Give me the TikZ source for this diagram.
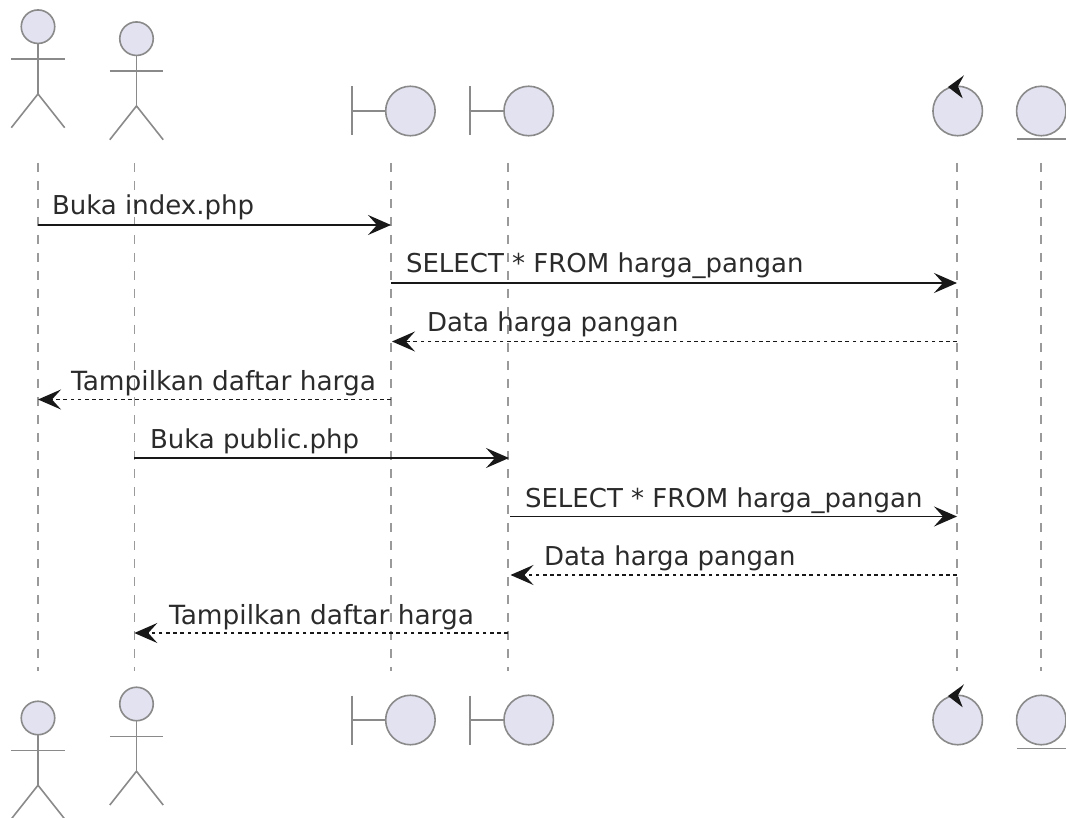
\documentclass[tikz,border=0pt]{standalone}
\usepackage{fontspec}
\setmainfont{DejaVu Sans}
\usetikzlibrary{arrows.meta}
\definecolor{partfill}{HTML}{E2E2F0}
\definecolor{partline}{HTML}{8A8A8A}
\definecolor{lifegray}{HTML}{9A9A9A}
\definecolor{msgline}{HTML}{181818}
\tikzset{
  x=1pt,y=-1pt,
  figure/.style={draw=partline,line width=1.6pt},
  headcirc/.style={figure,fill=partfill,circle,inner sep=0pt,outer sep=0pt,minimum size=33.5pt},
  bigcirc/.style={figure,fill=partfill,circle,inner sep=0pt,outer sep=0pt,minimum size=49.5pt},
  lifeline/.style={draw=lifegray,line width=1.6pt,dash pattern=on 9pt off 9pt},
  msg/.style={draw=msgline,line width=1.7pt,-{Stealth[length=23pt,width=20pt,inset=9pt,fill=msgline]}},
  reply/.style={msg,dash pattern=on 3.6pt off 3.6pt},
  msglabel/.style={anchor=base west,inner sep=0pt,outer sep=0pt,text=msgline!92!white,font=\fontsize{26}{30}\selectfont},
  widelabel/.style={msglabel,font=\fontsize{26.4}{30}\selectfont},
}
\newcommand{\stick}[3]{% name, x, top y (head centre)
  \node[headcirc] (#1) at (#2,#3) {};
  \draw[figure] (#1.south) -- ++(0,50.5) coordinate (#1hip);
  \draw[figure] (#2-26.7,#3+32.3) -- (#2+26.7,#3+32.3);
  \draw[figure] (#2-26.7,#3+101) -- (#1hip) -- (#2+26.7,#3+101);
}
\newcommand{\bnd}[3]{% name, circle x, y
  \node[bigcirc] (#1) at (#2,#3) {};
  \draw[figure] (#2-58.6,#3-24.5) -- (#2-58.6,#3+24.5);
  \draw[figure] (#2-58.6,#3) -- (#1.west);
}
\newcommand{\ctl}[3]{%
  \node[bigcirc] (#1) at (#2,#3) {};
  \fill[msgline] (#2-9.7,#3-24) -- (#2+6.3,#3-35.7) -- (#2+0.3,#3-24.7) -- (#2+5,#3-12.7) -- cycle;
}
\newcommand{\ent}[3]{%
  \node[bigcirc] (#1) at (#2,#3) {};
  \draw[figure] (#2-24.5,#3+28.3) -- (#2+25,#3+28.3);
}
\begin{document}
\begin{tikzpicture}
\useasboundingbox (0,0) rectangle (1066,818);
% lifeline ends
\foreach \n/\x in {a/38,b/134.3,c/391,d/508,e/957,f/1041}{
  \coordinate (\n t) at (\x,163);
  \coordinate (\n b) at (\x,671);
  \draw[lifeline] (\n t) -- (\n b);
}
% participants
\stick{u1}{38}{26.7}
\stick{u2}{136.5}{38.7}
\bnd{v1}{410.4}{111}
\bnd{v2}{528.7}{111}
\ctl{k1}{957.7}{111}
\ent{n1}{1041.3}{111}
\stick{u3}{38}{718}
\stick{u4}{136.5}{704}
\bnd{v3}{410.4}{720}
\bnd{v4}{528.7}{720}
\ctl{k2}{957.7}{720}
\ent{n2}{1041.3}{720}
% message rows
\foreach \m/\y in {m1/225,m2/283,m3/341.5,m4/399.5,m5/458,m6/516.5,m7/575,m8/633}{
  \coordinate (\m) at (0,\y);
}
\draw[msg] (at|-m1) -- (ct|-m1);
\draw[msg] (ct|-m2) -- (et|-m2);
\draw[reply] (et|-m3) -- ([xshift=1pt]ct|-m3);
\draw[reply] (ct|-m4) -- (at|-m4);
\draw[msg] (bt|-m5) -- ([xshift=1pt]dt|-m5);
\draw[msg] ([xshift=2pt]dt|-m6) -- (et|-m6);
\draw[reply] (et|-m7) -- ([xshift=2.5pt]dt|-m7);
\draw[reply] (dt|-m8) -- (bt|-m8);
% labels
\node[msglabel] (l1) at (52,215) {Buka index.php};
\node[msglabel] (l2) at (406,273) {SELECT * FROM harga\_pangan};
\node[msglabel] (l3) at (427,332) {Data harga pangan};
\node[widelabel] (l4) at (71,391) {Tampilkan daftar harga};
\node[msglabel] (l5) at (150,448) {Buka public.php};
\node[msglabel] (l6) at (525,507) {SELECT * FROM harga\_pangan};
\node[msglabel] (l7) at (544,565) {Data harga pangan};
\node[widelabel] (l8) at (169,624) {Tampilkan daftar harga};
\end{tikzpicture}
\end{document}
